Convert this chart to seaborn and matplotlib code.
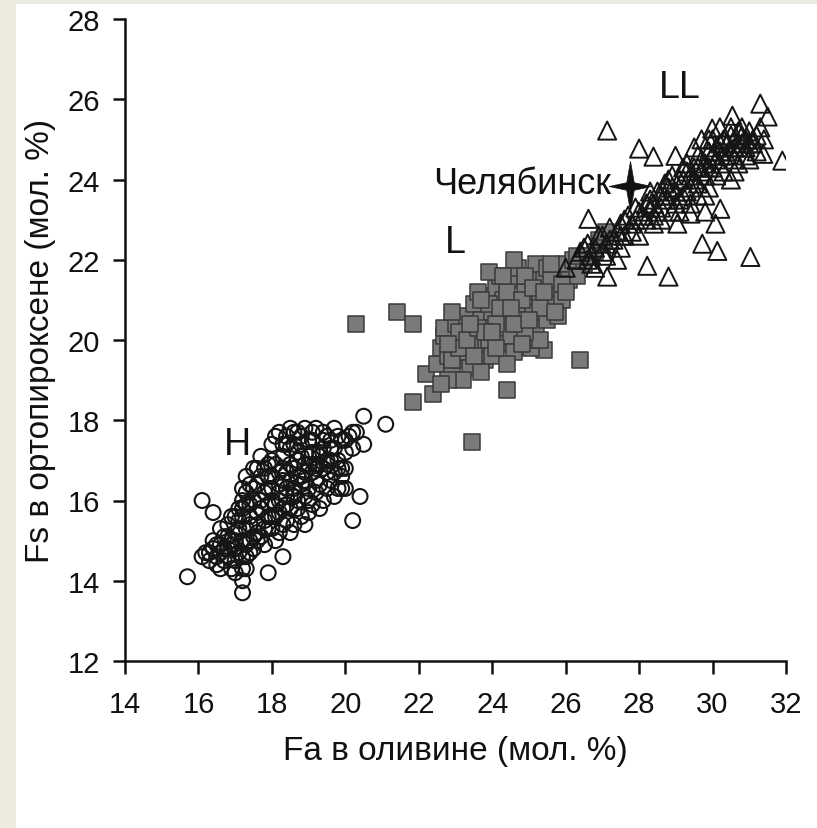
import matplotlib
matplotlib.use("Agg")
import matplotlib.pyplot as plt
from matplotlib.path import Path
from matplotlib.patches import Rectangle
import seaborn as sns
import pandas as pd

# ---------------- data ----------------
H_x = [15.7, 16.1, 16.4, 17.2, 17.2, 17.2, 17.9, 18.3, 20.4, 20.2, 21.1, 20.5, 20.5, 20.2, 19.9, 19.9,
       16.1, 16.3, 16.4, 16.2, 16.5, 16.6, 16.5, 16.7, 16.4, 16.6, 16.8, 16.7, 16.9, 17.0, 16.9, 17.1,
       16.6, 16.8, 17.0, 17.2, 17.3, 17.1, 17.3, 17.4, 17.5, 17.2, 17.4, 17.6, 17.7, 17.8, 17.5, 17.7,
       17.3, 17.6, 17.8, 17.9, 18.0, 18.1, 17.9, 18.0, 18.2, 18.3, 17.8, 18.1, 18.2, 18.4, 18.5, 18.6,
       18.3, 18.4, 18.6, 18.7, 18.8, 18.5, 18.7, 18.8, 19.0, 19.1, 18.4, 18.6, 18.8, 19.0, 19.1, 19.3,
       19.4, 18.9, 19.1, 19.3, 19.4, 19.6, 19.7, 19.2, 19.5, 19.6, 19.8, 19.9, 19.7, 19.9, 20.0, 20.1,
       20.0, 18.2, 18.5, 18.0, 17.7, 17.5, 17.3, 18.9, 18.6, 18.3, 18.0, 17.9, 18.4, 18.9, 19.2, 19.5,
       19.2, 18.7, 19.0, 19.6, 18.2, 17.7, 17.4, 17.0, 16.8, 19.3, 18.9, 18.5, 18.2, 19.7, 20.0, 20.2,
       20.3, 19.4, 18.7, 19.8, 17.6, 17.1, 16.9, 17.2, 17.0, 17.3,
       17.0, 17.2, 17.4, 17.6, 17.8, 17.9, 18.1, 18.0, 18.2, 18.3, 18.5, 18.6, 18.8, 18.9, 19.0, 19.2,
       19.3, 19.5, 19.4, 19.1, 18.8, 18.6, 18.3, 18.0, 17.7, 17.5, 17.3, 17.1, 16.9, 16.7, 16.5, 16.3,
       16.6, 17.0, 17.2, 17.4, 17.6, 17.9, 18.1, 18.4, 18.7, 19.0, 19.3, 19.6, 19.8, 20.0, 19.7, 19.5,
       19.2, 18.9, 18.6, 18.3, 18.0, 17.8, 17.5, 17.3, 18.5, 18.2, 17.9, 18.8, 19.1, 19.4, 18.4, 18.1,
       19.5, 19.8, 19.0, 18.7, 18.4, 16.8, 17.6, 17.4, 17.2]
H_y = [14.1, 16.0, 15.7, 14.3, 14.0, 13.7, 14.2, 14.6, 16.1, 15.5, 17.9, 18.1, 17.4, 17.7, 16.8, 16.3,
       14.6, 14.5, 14.8, 14.7, 14.4, 14.3, 14.6, 14.5, 15.0, 14.9, 14.8, 15.1, 14.3, 14.5, 15.0, 14.7,
       15.3, 15.4, 15.2, 15.0, 14.6, 15.5, 15.3, 15.0, 14.8, 15.8, 15.6, 15.4, 15.1, 14.9, 16.0, 15.8,
       16.2, 16.4, 16.2, 15.6, 15.3, 15.0, 16.6, 16.0, 15.7, 15.4, 16.8, 16.9, 16.4, 16.1, 15.8, 15.4,
       17.1, 16.7, 16.3, 16.0, 15.6, 17.3, 17.0, 16.6, 16.3, 15.9, 17.6, 17.7, 17.4, 17.1, 16.7, 16.4,
       16.0, 17.8, 17.5, 17.2, 16.8, 16.5, 16.1, 17.8, 17.6, 17.3, 17.0, 16.6, 17.8, 17.5, 17.2, 17.6,
       16.8, 17.7, 17.8, 17.4, 17.1, 16.8, 16.6, 16.9, 16.8, 16.5, 16.6, 16.3, 15.9, 16.1, 16.2, 16.9,
       16.9, 17.2, 17.5, 17.0, 16.2, 16.0, 15.4, 15.0, 14.6, 15.8, 15.4, 15.2, 15.2, 16.7, 16.3, 17.3,
       17.7, 17.7, 17.7, 16.3, 15.0, 15.8, 15.6, 16.3, 14.2, 14.3,
       15.6, 15.6, 15.9, 15.7, 15.5, 15.9, 15.6, 16.3, 16.0, 16.8, 16.5, 16.1, 16.4, 16.7, 16.0, 16.5,
       16.9, 16.7, 17.3, 17.2, 17.1, 17.4, 17.4, 17.0, 16.6, 16.3, 15.9, 15.3, 14.9, 14.8, 14.9, 14.7,
       14.7, 14.8, 14.6, 14.7, 15.2, 15.3, 15.9, 16.3, 16.6, 16.9, 17.1, 17.5, 17.6, 17.5, 17.3, 17.0,
       16.8, 16.5, 16.2, 15.8, 15.6, 15.3, 15.1, 14.9, 16.9, 16.7, 16.9, 17.6, 17.7, 17.5, 17.4, 17.6,
       16.3, 16.8, 15.7, 15.8, 15.5, 15.1, 16.8, 16.4, 16.0]

L_x = [20.3, 21.4, 21.85, 21.85, 22.2, 22.4, 23.45, 24.4, 26.4, 25.4, 25.05,
       22.5, 22.6, 22.7, 22.8, 22.9, 22.7, 23.0, 23.0, 23.1, 23.2, 23.3, 23.3, 23.4, 23.5, 23.5, 23.6,
       23.7, 23.8, 23.8, 23.9, 24.0, 24.0, 24.1, 24.2, 24.3, 24.3, 24.4, 24.5, 24.5, 24.6, 24.7, 24.7,
       24.8, 24.9, 25.0, 25.0, 25.1, 25.2, 25.2, 25.3, 25.4, 25.5, 25.5, 25.6, 25.7, 25.8, 25.9, 26.0,
       23.2, 22.9, 23.6, 24.2, 23.9, 24.6, 25.3, 24.4, 23.4, 24.9, 25.8, 26.1, 24.1, 23.1, 22.8, 22.6,
       23.7, 24.8, 25.6, 26.2, 26.5, 26.8, 27.0, 26.3,
       22.9, 23.1, 23.3, 23.5, 23.6, 23.8, 23.9, 24.1, 24.2, 24.4, 24.6, 24.8, 24.9, 25.1, 25.3, 25.4,
       25.6, 25.7, 25.9, 26.0, 24.5, 24.0, 23.4, 22.8, 25.0, 24.3, 23.7, 26.3, 26.6, 26.9, 27.1]
L_y = [20.4, 20.7, 20.4, 18.45, 19.15, 18.65, 17.45, 18.75, 19.5, 19.75, 19.8,
       19.4, 19.8, 20.1, 19.6, 19.2, 20.3, 19.9, 20.4, 19.5, 20.1, 19.7, 20.6, 19.3, 20.2, 20.9, 19.8,
       20.5, 19.5, 21.1, 20.0, 20.7, 19.6, 21.3, 20.3, 19.9, 21.0, 20.6, 21.5, 20.1, 19.7, 20.9, 21.8,
       20.4, 21.2, 20.0, 21.6, 20.7, 21.9, 20.3, 21.1, 21.5, 20.5, 21.8, 20.9, 21.3, 21.7, 21.0, 21.9,
       19.0, 20.7, 21.2, 21.6, 21.7, 22.0, 20.0, 19.4, 20.0, 20.2, 20.6, 21.5, 20.4, 20.2, 19.0, 18.9,
       19.2, 19.9, 21.5, 22.0, 21.9, 22.2, 22.4, 21.6,
       19.5, 19.8, 20.0, 19.6, 20.3, 20.2, 20.9, 19.8, 20.8, 21.2, 20.4, 21.0, 21.6, 21.3, 20.8, 21.2,
       21.9, 20.7, 21.4, 21.2, 20.8, 20.2, 20.4, 19.9, 20.5, 21.6, 21.0, 22.1, 22.1, 22.5, 22.7]

LL_x = [27.13, 28.0, 28.39, 28.99, 31.3, 31.5, 30.54, 29.99, 31.38, 31.9, 29.04, 29.4, 29.8, 30.21,
        30.08, 29.72, 30.13, 31.03, 28.22, 28.8, 27.13, 26.62,
        26.0, 26.3, 26.5, 26.7, 26.9, 27.0, 27.2, 27.3, 27.5, 27.5, 27.7, 27.8, 28.0, 28.0, 28.2, 28.3,
        28.4, 28.5, 28.6, 28.7, 28.8, 28.9, 29.0, 29.1, 29.2, 29.3, 29.4, 29.5, 29.6, 29.7, 29.8, 29.9,
        30.0, 30.1, 30.2, 30.3, 30.4, 30.5, 30.6, 30.7, 30.8, 30.9, 31.0, 31.1, 31.2, 30.0, 29.6, 29.2,
        28.9, 28.6, 28.3, 27.9, 27.6, 27.1, 26.6, 29.8, 30.3, 30.7, 29.4, 28.9, 30.5, 31.0, 29.9, 28.4,
        27.4, 26.8, 30.2, 29.7, 30.9, 29.5,
        26.4, 26.6, 26.8, 27.0, 27.2, 27.4, 27.6, 27.8, 28.1, 28.2, 28.4, 28.5, 28.7, 28.8, 29.0, 29.1,
        29.2, 29.3, 29.4, 29.5, 29.6, 29.7, 29.8, 29.9, 30.0, 30.1, 30.2, 30.3, 30.4, 30.5, 30.6, 30.7,
        30.8, 30.9, 31.0, 31.1, 30.5, 30.8, 29.9, 30.2, 30.6, 29.3, 28.8, 28.3, 27.9, 27.5, 27.1, 26.7,
        28.6, 29.1, 29.6, 30.1, 30.6, 31.2, 31.4, 31.3]
LL_y = [25.22, 24.77, 24.57, 24.59, 25.89, 25.57, 25.59, 25.27, 24.64, 24.47, 22.9, 23.15, 23.2, 23.27,
        22.9, 22.4, 22.22, 22.07, 21.85, 21.58, 21.58, 23.02,
        21.8, 22.0, 22.3, 22.1, 22.6, 22.2, 22.8, 22.5, 22.9, 22.3, 23.1, 22.7, 23.2, 22.6, 23.0, 23.5,
        23.1, 23.7, 23.3, 23.9, 23.5, 23.8, 23.4, 24.0, 23.6, 24.2, 23.8, 24.3, 23.9, 24.5, 24.1, 24.7,
        24.3, 24.8, 24.4, 25.0, 24.6, 25.1, 24.8, 25.2, 24.9, 25.0, 25.2, 24.9, 25.1, 25.0, 24.6, 24.3,
        24.1, 23.6, 23.3, 23.0, 22.6, 22.4, 22.0, 23.6, 24.2, 24.4, 23.4, 23.2, 24.0, 24.5, 23.8, 22.9,
        22.0, 21.8, 25.3, 25.0, 24.6, 24.8,
        22.2, 22.4, 22.3, 22.6, 22.5, 22.7, 23.0, 22.9, 23.1, 23.4, 23.4, 23.2, 23.6, 23.8, 23.7, 23.5,
        24.0, 23.7, 24.1, 24.0, 24.3, 24.2, 24.4, 24.3, 24.6, 24.5, 24.7, 24.6, 24.9, 24.7, 25.0, 24.8,
        25.1, 24.8, 24.9, 25.0, 25.3, 25.3, 25.0, 24.9, 24.5, 24.4, 24.0, 23.7, 23.3, 22.6, 22.1, 21.9,
        23.0, 23.2, 23.6, 24.1, 24.2, 24.7, 25.0, 25.3]

star_x = [27.76]
star_y = [23.85]

x_ticks = [14, 16, 18, 20, 22, 24, 26, 28, 30, 32]
y_ticks = [12, 14, 16, 18, 20, 22, 24, 26, 28]

labels = {"H": (17.05, 17.4), "L": (23.0, 22.45), "LL": (29.1, 26.3)}
star_label = "Челябинск"

# ---------------- style ----------------
sns.set_theme(style="ticks")
plt.rcParams["font.family"] = ["Liberation Sans", "DejaVu Sans"]

fig = plt.figure(figsize=(8.17, 8.29), dpi=100)
fig.patch.set_facecolor("#edeae0")
bg = fig.add_axes([16 / 817, 0, 1 - 16 / 817, 1 - 5 / 829], zorder=-10)
bg.set_axis_off()
bg.add_patch(Rectangle((0, 0), 1, 1, transform=bg.transAxes, facecolor="white", edgecolor="none"))

ax = fig.add_axes([125 / 817, 1 - 662 / 829, (786 - 125) / 817, (662 - 20) / 829], zorder=1)
ax.set_facecolor("none")

dfH = pd.DataFrame({"x": H_x, "y": H_y})
dfL = pd.DataFrame({"x": L_x, "y": L_y})
dfLL = pd.DataFrame({"x": LL_x, "y": LL_y})

sns.scatterplot(data=dfH, x="x", y="y", ax=ax, marker="o", s=115,
                facecolor="none", edgecolor="#151515", linewidth=1.5, zorder=3)
sns.scatterplot(data=dfL, x="x", y="y", ax=ax, marker="s", s=130,
                color="#7a7a7a", edgecolor="#3a3a3a", linewidth=1.1, zorder=4)
sns.scatterplot(data=dfLL, x="x", y="y", ax=ax, marker="^", s=170,
                facecolor="none", edgecolor="#151515", linewidth=1.4, zorder=5)

star = Path([(0, 1), (0.15, 0.15), (0.85, 0), (0.15, -0.15), (0, -1), (-0.15, -0.15), (-0.85, 0),
             (-0.15, 0.15), (0, 1)],
            [Path.MOVETO] + [Path.LINETO] * 7 + [Path.CLOSEPOLY])
sns.scatterplot(x=star_x, y=star_y, ax=ax, marker=star, s=1300, color="#111111",
                edgecolor="#111111", linewidth=0.5, zorder=6)

for t, (lx, ly) in labels.items():
    ax.text(lx, ly, t, fontsize=27, ha="center", va="center", color="#111111", zorder=7)
ax.text(27.25, 23.9, star_label, fontsize=26, ha="right", va="center", color="#111111", zorder=7)

ax.set_xlim(14, 32)
ax.set_ylim(12, 28)
ax.set_xticks(x_ticks)
ax.set_yticks(y_ticks)
ax.set_xticklabels([str(v) for v in x_ticks])
ax.set_yticklabels([str(v) for v in y_ticks])
ax.tick_params(axis="both", direction="out", length=9, width=1.8, colors="#111111",
               labelsize=21, pad=12)
ax.tick_params(axis="y", pad=9)
for sp in ["top", "right"]:
    ax.spines[sp].set_visible(False)
for sp in ["left", "bottom"]:
    ax.spines[sp].set_linewidth(1.8)
    ax.spines[sp].set_color("#111111")
ax.set_xlabel("Fa в оливине (мол. %)", fontsize=24, labelpad=12, color="#111111")
ax.set_ylabel("Fs в ортопироксене (мол. %)", fontsize=24, labelpad=8, color="#111111")
ax.grid(False)

fig.savefig("out.png", dpi=100, facecolor=fig.get_facecolor())
